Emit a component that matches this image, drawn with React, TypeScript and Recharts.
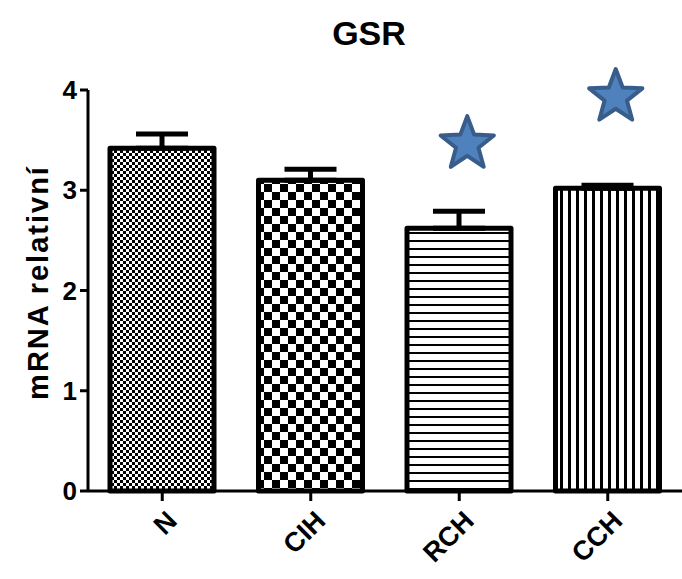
import React from 'react';
import { ComposedChart, Bar, Cell, ErrorBar, Scatter, XAxis, YAxis } from 'recharts';

const groups = ['N', 'CIH', 'RCH', 'CCH'];
const means = [3.42, 3.1, 2.62, 3.02];
const sems = [0.14, 0.11, 0.17, 0.03];
const starLevels: (number | null)[] = [null, null, 3.46, 3.93];
const yTicks = [0, 1, 2, 3, 4];
const patterns = ['url(#fineCheck)', 'url(#bigCheck)', 'url(#hLines)', 'url(#vLines)'];

const data = groups.map((g, i) => ({
  name: g,
  value: means[i],
  err: [0, sems[i]],
  star: starLevels[i],
}));

const FONT = '"Liberation Sans", Arial, sans-serif';

function XTick(props: any) {
  const { x, y, payload } = props;
  const ax = x + 10;
  const ay = y + 13;
  return (
    <text
      x={ax}
      y={ay}
      transform={`rotate(-45, ${ax}, ${ay})`}
      textAnchor="end"
      dominantBaseline="central"
      fontFamily={FONT}
      fontWeight="bold"
      fontSize={27}
      fill="#000"
    >
      {payload.value}
    </text>
  );
}

function Star(props: any) {
  const { cx, cy } = props;
  if (typeof cy !== 'number' || isNaN(cy)) return <g />;
  const R = 28;
  const r = R * 0.42;
  const ox = cx + 8;
  const pts: string[] = [];
  for (let k = 0; k < 10; k++) {
    const rad = k % 2 === 0 ? R : r;
    const a = -Math.PI / 2 + (k * Math.PI) / 5;
    pts.push(`${ox + rad * Math.cos(a)},${cy + rad * Math.sin(a)}`);
  }
  return (
    <polygon
      points={pts.join(' ')}
      fill="#4f81bd"
      stroke="#385d8a"
      strokeWidth={4}
      strokeLinejoin="round"
    />
  );
}

function YLabel(props: any) {
  const { viewBox } = props;
  const cy = viewBox.y + viewBox.height / 2 - 8;
  return (
    <text
      x={38}
      y={cy}
      transform={`rotate(-90, 38, ${cy})`}
      textAnchor="middle"
      dominantBaseline="central"
      fontFamily={FONT}
      fontWeight="bold"
      fontSize={29}
      letterSpacing={2}
      fill="#000"
    >
      mRNA relativní
    </text>
  );
}

export default function App() {
  return (
    <div style={{ position: 'absolute', left: 0, top: 0, width: 682, height: 579, background: '#fff' }}>
      <div
        style={{
          position: 'absolute',
          left: 319,
          top: 16,
          width: 100,
          textAlign: 'center',
          fontFamily: FONT,
          fontWeight: 'bold',
          fontSize: 34,
          lineHeight: '34px',
        }}
      >
        GSR
      </div>
      <ComposedChart width={682} height={579} data={data} margin={{ top: 90, right: 0, bottom: 28, left: 0 }}>
        <defs>
          <pattern id="fineCheck" patternUnits="userSpaceOnUse" width={6} height={6}>
            <rect width={6} height={6} fill="#fff" />
            <rect x={0} y={0} width={3} height={3} fill="#000" />
            <rect x={3} y={3} width={3} height={3} fill="#000" />
          </pattern>
          <pattern id="bigCheck" patternUnits="userSpaceOnUse" width={16} height={16}>
            <rect width={16} height={16} fill="#fff" />
            <rect x={0} y={0} width={8} height={8} fill="#000" />
            <rect x={8} y={8} width={8} height={8} fill="#000" />
          </pattern>
          <pattern id="hLines" patternUnits="userSpaceOnUse" width={8} height={8}>
            <rect width={8} height={8} fill="#fff" />
            <rect x={0} y={0} width={8} height={2} fill="#000" />
          </pattern>
          <pattern id="vLines" patternUnits="userSpaceOnUse" width={8} height={8}>
            <rect width={8} height={8} fill="#fff" />
            <rect x={0} y={0} width={3} height={8} fill="#000" />
          </pattern>
        </defs>
        <XAxis
          dataKey="name"
          stroke="#000"
          strokeWidth={3}
          tickSize={10}
          tickLine={{ stroke: '#000', strokeWidth: 3 }}
          tick={<XTick />}
          height={60}
          interval={0}
        />
        <YAxis
          domain={[0, 4]}
          ticks={yTicks}
          width={88}
          stroke="#000"
          strokeWidth={3}
          tickSize={8}
          tickMargin={3}
          tickLine={{ stroke: '#000', strokeWidth: 3 }}
          tick={{ fill: '#000', fontFamily: FONT, fontWeight: 'bold', fontSize: 26 }}
          label={<YLabel />}
        />
        <Bar
          dataKey="value"
          barSize={104}
          stroke="#000"
          strokeWidth={5}
          strokeLinejoin="round"
          isAnimationActive={false}
        >
          {data.map((d, i) => (
            <Cell key={d.name} fill={patterns[i]} />
          ))}
          <ErrorBar dataKey="err" width={26} stroke="#000" strokeWidth={5} />
        </Bar>
        <Scatter dataKey="star" shape={<Star />} isAnimationActive={false} />
      </ComposedChart>
    </div>
  );
}
